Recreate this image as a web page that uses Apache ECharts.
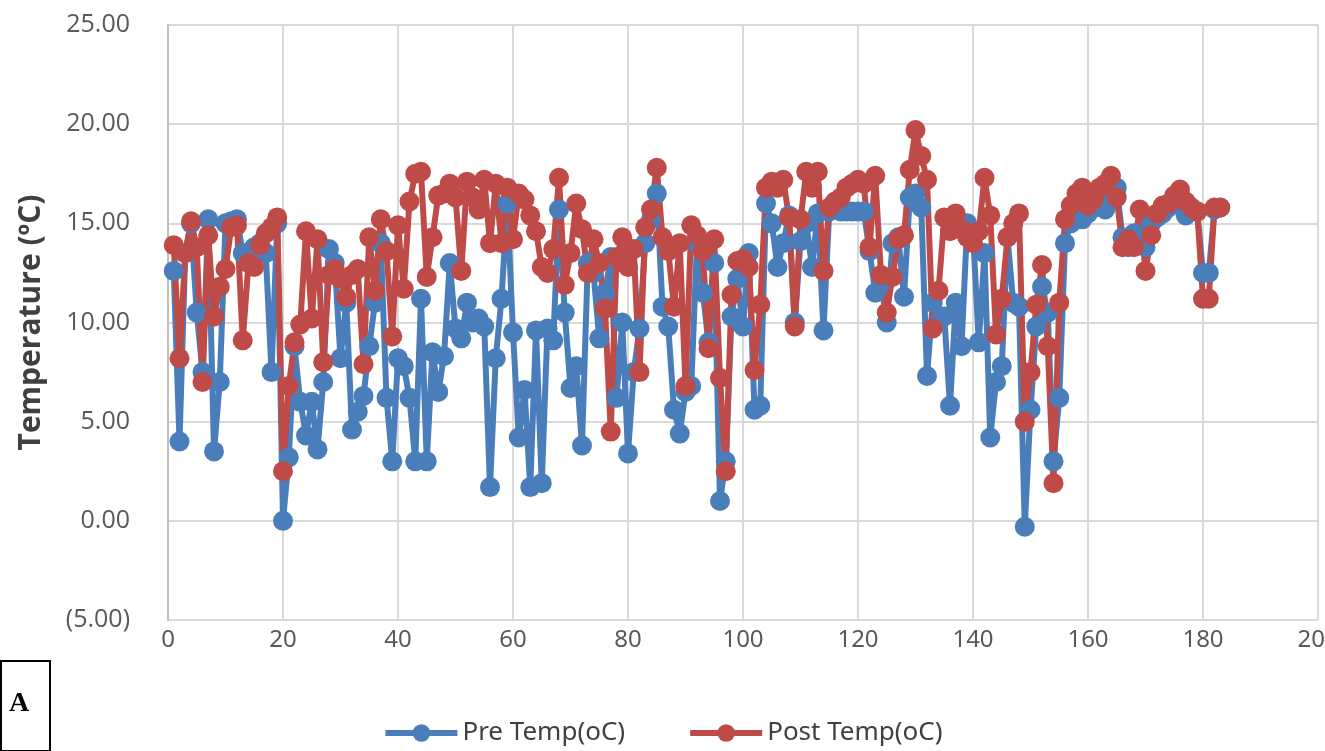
<!DOCTYPE html>
<html>
<head>
<meta charset="utf-8">
<script src="https://cdn.jsdelivr.net/npm/echarts@6/dist/echarts.min.js"></script>
<style>
  html, body { margin: 0; padding: 0; background: #fff; }
  #chart { width: 1325px; height: 751px; }
</style>
</head>
<body>
<div id="chart"></div>
<script>
// day index 1..183
var days = [];
for (var d = 1; d <= 183; d++) days.push(d);

var preTemp = [
    12.6, 4.0, 13.5, 15.0, 10.5, 7.5, 15.2, 3.5, 7.0, 15.0,
    15.1, 15.2, 13.5, 13.0, 13.8, 14.0, 13.5, 7.5, 15.0, 0.0,
    3.2, 8.8, 6.0, 4.3, 6.0, 3.6, 7.0, 13.7, 13.0, 8.2,
    11.0, 4.6, 5.5, 6.3, 8.8, 11.0, 14.0, 6.2, 3.0, 8.2,
    7.8, 6.2, 3.0, 11.2, 3.0, 8.5, 6.5, 8.3, 13.0, 9.7,
    9.2, 11.0, 10.0, 10.2, 9.8, 1.7, 8.2, 11.2, 16.0, 9.5,
    4.2, 6.6, 1.7, 9.6, 1.9, 9.7, 9.1, 15.7, 10.5, 6.7,
    7.8, 3.8, 13.0, 12.5, 9.2, 11.5, 13.3, 6.2, 10.0, 3.4,
    7.5, 9.7, 14.0, 15.2, 16.5, 10.8, 9.8, 5.6, 4.4, 6.5,
    6.8, 14.0, 11.5, 9.0, 13.0, 1.0, 3.0, 10.3, 12.2, 9.8,
    13.5, 5.6, 5.8, 16.0, 15.0, 12.8, 14.0, 15.4, 10.0, 14.1,
    15.0, 12.8, 15.5, 9.6, 15.6, 15.7, 15.6, 15.6, 15.6, 15.6,
    15.6, 13.6, 11.5, 12.0, 10.0, 14.0, 14.3, 11.3, 16.3, 16.5,
    15.8, 7.3, 11.0, 10.0, 10.3, 5.8, 11.0, 8.8, 15.0, 14.5,
    9.0, 13.5, 4.2, 7.0, 7.8, 14.3, 11.0, 10.8, -0.3, 5.6,
    9.8, 11.8, 10.5, 3.0, 6.2, 14.0, 15.0, 15.4, 15.2, 15.5,
    15.8, 16.0, 15.7, 16.5, 16.8, 14.3, 13.8, 14.5, 14.2, 13.8,
    15.0, 15.3, 15.5, 15.8, 16.0, 16.2, 15.4, 15.6, 15.6, 12.5,
    12.5, 15.7, 15.8
];

var postTemp = [
    13.9, 8.2, 13.5, 15.1, 13.8, 7.0, 14.4, 10.3, 11.8, 12.7,
    14.8, 14.9, 9.1, 13.0, 12.8, 13.9, 14.5, 14.8, 15.3, 2.5,
    6.8, 9.0, 9.9, 14.6, 10.2, 14.2, 8.0, 12.4, 12.7, 12.2,
    11.3, 12.4, 12.7, 7.9, 14.3, 11.6, 15.2, 13.6, 9.3, 14.9,
    11.7, 16.1, 17.5, 17.6, 12.3, 14.3, 16.4, 16.5, 17.0, 16.3,
    12.6, 17.1, 16.3, 15.7, 17.2, 14.0, 17.0, 14.0, 16.8, 14.2,
    16.5, 16.2, 15.4, 14.6, 12.8, 12.5, 13.7, 17.3, 11.9, 13.5,
    16.0, 14.7, 12.5, 14.2, 13.0, 10.7, 4.5, 13.3, 14.3, 12.8,
    13.7, 7.5, 14.8, 15.7, 17.8, 14.3, 13.6, 10.8, 14.0, 6.8,
    14.9, 14.4, 13.6, 8.7, 14.2, 7.2, 2.5, 11.4, 13.1, 13.2,
    12.8, 7.6, 10.9, 16.8, 17.1, 16.8, 17.2, 15.3, 9.8, 15.2,
    17.6, 16.8, 17.6, 12.6, 15.8, 16.1, 16.3, 16.8, 17.0, 17.2,
    17.0, 13.8, 17.4, 12.4, 10.5, 12.3, 14.2, 14.4, 17.7, 19.7,
    18.4, 17.2, 9.7, 11.6, 15.3, 14.6, 15.5, 14.7, 14.3, 14.0,
    14.6, 17.3, 15.4, 9.4, 11.2, 14.3, 15.0, 15.5, 5.0, 7.5,
    10.9, 12.9, 8.8, 1.9, 11.0, 15.2, 15.9, 16.5, 16.8, 15.9,
    16.2, 16.8, 17.0, 17.4, 16.3, 13.8, 14.2, 13.8, 15.7, 12.6,
    14.4, 15.5, 15.9, 16.0, 16.4, 16.7, 16.1, 15.8, 15.6, 11.2,
    11.2, 15.8, 15.8
];

var seriesNames = ['Pre Temp(oC)', 'Post Temp(oC)'];

function pairs(vals) {
    var out = [];
    for (var i = 0; i < vals.length; i++) out.push([days[i], vals[i]]);
    return out;
}

var chart = echarts.init(document.getElementById('chart'));

var option = {
    animation: false,
    backgroundColor: '#fff',
    grid: {
        left: 168,
        right: 7,
        top: 25,
        bottom: 131,
        outerBoundsMode: 'none',
        containLabel: false
    },
    legend: {
        data: seriesNames,
        bottom: 0,
        left: 'center',
        itemWidth: 72,
        itemHeight: 22,
        itemGap: 62,
        lineStyle: { width: 6 },
        textStyle: {
            fontSize: 26,
            color: '#404040',
            fontFamily: 'Liberation Sans Narrow, Noto Sans, sans-serif'
        }
    },
    xAxis: {
        type: 'value',
        min: 0,
        max: 200,
        interval: 20,
        axisLine: { show: false },
        axisTick: { show: false },
        axisLabel: {
            fontSize: 24,
            color: '#595959',
            margin: 8,
            fontFamily: 'Liberation Sans Narrow, Noto Sans, sans-serif'
        },
        splitLine: { lineStyle: { color: '#d9d9d9', width: 2 } }
    },
    yAxis: {
        type: 'value',
        min: -5,
        max: 25,
        interval: 5,
        name: 'Temperature (ºC)',
        nameLocation: 'middle',
        nameGap: 122,
        nameTextStyle: {
            fontSize: 30,
            fontWeight: 'bold',
            color: '#404040',
            fontFamily: 'Open Sans, sans-serif'
        },
        axisLine: { show: true, onZero: false, lineStyle: { color: '#bfbfbf', width: 2 } },
        axisTick: { show: false },
        axisLabel: {
            fontSize: 25,
            color: '#595959',
            margin: 38,
            fontFamily: 'Open Sans, sans-serif',
            formatter: function (v) {
                if (v < 0) return '(' + Math.abs(v).toFixed(2) + ')';
                return v.toFixed(2);
            }
        },
        splitLine: { lineStyle: { color: '#d9d9d9', width: 2 } }
    },
    series: [
        {
            name: seriesNames[0],
            type: 'line',
            data: pairs(preTemp),
            symbol: 'circle',
            symbolSize: 20,
            showAllSymbol: true,
            color: '#4a7ebb',
            lineStyle: { width: 6, color: '#4a7ebb' },
            itemStyle: { color: '#4a7ebb' }
        },
        {
            name: seriesNames[1],
            type: 'line',
            data: pairs(postTemp),
            symbol: 'circle',
            symbolSize: 20,
            showAllSymbol: true,
            color: '#be4b48',
            lineStyle: { width: 6, color: '#be4b48' },
            itemStyle: { color: '#be4b48' }
        }
    ],
    graphic: [
        {
            type: 'rect',
            left: 0,
            top: 660,
            shape: { width: 49, height: 90 },
            style: { fill: '#fff', stroke: '#000', lineWidth: 2 }
        },
        {
            type: 'text',
            left: 9,
            top: 690,
            style: {
                text: 'A',
                font: 'bold 28px "Liberation Serif", "DejaVu Serif", serif',
                fill: '#000'
            }
        }
    ]
};

chart.setOption(option);
</script>
</body>
</html>
